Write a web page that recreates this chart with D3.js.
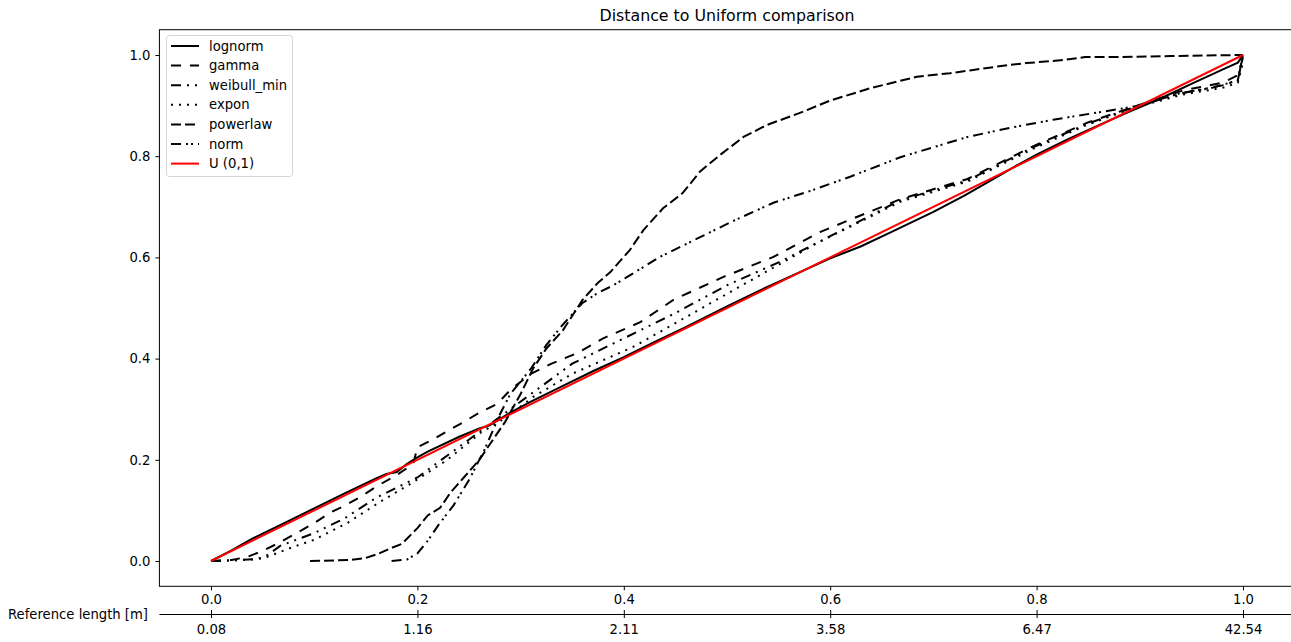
<!DOCTYPE html>
<html>
<head>
<meta charset="utf-8">
<script src="https://cdn.jsdelivr.net/npm/d3@7"></script>
<style>
  body { margin: 0; background: #fff; }
  svg { display: block; font-family: "DejaVu Sans", sans-serif; }
</style>
</head>
<body>
<div id="chart"></div>
<script>
// PP curves: [uniform quantile, fitted CDF]
const lognorm = [[0,0],[0.02,0.021],[0.04,0.044],[0.07,0.074],[0.1,0.104],[0.13,0.134],[0.16,0.163],[0.17,0.172],[0.18,0.176],[0.19,0.192],[0.2,0.205],[0.21,0.216],[0.24,0.245],[0.26,0.262],[0.27,0.268],[0.29,0.293],[0.31,0.315],[0.34,0.345],[0.37,0.375],[0.4,0.403],[0.43,0.433],[0.46,0.462],[0.5,0.503],[0.53,0.533],[0.56,0.561],[0.6,0.598],[0.63,0.622],[0.66,0.651],[0.7,0.69],[0.73,0.722],[0.76,0.757],[0.78,0.781],[0.8,0.803],[0.83,0.833],[0.86,0.861],[0.89,0.888],[0.92,0.914],[0.95,0.943],[0.98,0.971],[0.995,0.985],[1,1]];
const gamma = [[0,0],[0.02,0.002],[0.035,0.008],[0.05,0.02],[0.065,0.035],[0.08,0.052],[0.1,0.075],[0.115,0.095],[0.13,0.11],[0.145,0.127],[0.16,0.147],[0.18,0.17],[0.196,0.192],[0.2,0.225],[0.215,0.24],[0.23,0.258],[0.245,0.275],[0.26,0.293],[0.277,0.31],[0.29,0.338],[0.31,0.37],[0.33,0.39],[0.355,0.411],[0.38,0.44],[0.416,0.472],[0.448,0.516],[0.496,0.561],[0.545,0.601],[0.59,0.65],[0.668,0.715],[0.733,0.755],[0.797,0.82],[0.849,0.866],[0.893,0.897],[0.942,0.93],[0.98,0.945],[0.995,0.96],[1,0.995]];
const weibullMin = [[0,0],[0.02,0.001],[0.045,0.004],[0.055,0.012],[0.067,0.03],[0.08,0.04],[0.1,0.055],[0.13,0.085],[0.16,0.125],[0.2,0.165],[0.23,0.21],[0.26,0.255],[0.29,0.3],[0.32,0.345],[0.35,0.39],[0.4,0.44],[0.45,0.49],[0.5,0.545],[0.55,0.59],[0.6,0.642],[0.668,0.713],[0.733,0.752],[0.797,0.818],[0.849,0.864],[0.893,0.896],[0.942,0.925],[0.98,0.94],[0.995,0.95],[1,1]];
const expon = [[0,0],[0.02,0.001],[0.04,0.003],[0.052,0.006],[0.067,0.018],[0.08,0.028],[0.1,0.042],[0.132,0.075],[0.164,0.117],[0.196,0.156],[0.229,0.2],[0.244,0.225],[0.261,0.253],[0.287,0.285],[0.312,0.324],[0.35,0.37],[0.409,0.423],[0.45,0.47],[0.506,0.535],[0.587,0.628],[0.668,0.71],[0.733,0.75],[0.797,0.815],[0.849,0.862],[0.893,0.895],[0.942,0.922],[0.98,0.935],[0.995,0.945],[1,0.985]];
const powerlaw = [[0.096,0],[0.135,0.002],[0.15,0.006],[0.162,0.014],[0.175,0.026],[0.185,0.034],[0.2,0.065],[0.21,0.09],[0.222,0.105],[0.232,0.135],[0.245,0.165],[0.26,0.2],[0.275,0.245],[0.285,0.275],[0.3,0.33],[0.312,0.38],[0.325,0.42],[0.341,0.456],[0.36,0.516],[0.375,0.55],[0.387,0.571],[0.406,0.615],[0.419,0.654],[0.438,0.697],[0.457,0.727],[0.474,0.77],[0.493,0.802],[0.516,0.838],[0.539,0.862],[0.57,0.885],[0.6,0.91],[0.64,0.935],[0.684,0.957],[0.716,0.964],[0.737,0.97],[0.772,0.98],[0.79,0.984],[0.826,0.99],[0.847,0.996],[0.88,0.996],[0.93,0.998],[1,1]];
const norm = [[0.175,0],[0.19,0.003],[0.2,0.015],[0.21,0.04],[0.22,0.07],[0.235,0.11],[0.25,0.16],[0.265,0.22],[0.28,0.29],[0.29,0.33],[0.31,0.38],[0.325,0.427],[0.34,0.465],[0.36,0.51],[0.375,0.53],[0.39,0.545],[0.403,0.561],[0.435,0.601],[0.474,0.64],[0.506,0.672],[0.545,0.708],[0.583,0.733],[0.62,0.76],[0.668,0.798],[0.733,0.838],[0.774,0.856],[0.816,0.872],[0.861,0.887],[0.9,0.9],[0.94,0.925],[0.97,0.935],[0.995,0.95],[1,1]];
const uniform = [[0,0],[1,1]];

const seriesNames = ["lognorm", "gamma", "weibull_min", "expon", "powerlaw", "norm", "U (0,1)"];
const seriesValues = [lognorm, gamma, weibullMin, expon, powerlaw, norm, uniform];

// tick labels
const primaryTicks = [0, 0.2, 0.4, 0.6, 0.8, 1.0];
const yTicks = [0, 0.2, 0.4, 0.6, 0.8, 1.0];
const referenceLengthLabels = ["0.08", "1.16", "2.11", "3.58", "6.47", "42.54"];

// line styles, same order as seriesNames
const styles = [
    {stroke: "#000", dash: null},
    {stroke: "#000", dash: "10,9"},
    {stroke: "#000", dash: "10,6,2,6,2,6"},
    {stroke: "#000", dash: "2,6"},
    {stroke: "#000", dash: "10,4"},
    {stroke: "#000", dash: "10,5,2,3,2,5"},
    {stroke: "#ff0000", dash: null}
];

const W = 1291, H = 642;
const plot = {left: 159.4, right: 1294.6, top: 29.7, bottom: 586.3};

const svg = d3.select("#chart").append("svg")
    .attr("width", W)
    .attr("height", H);

const x = d3.scaleLinear().domain([-0.05, 1.05]).range([plot.left, plot.right]);
const y = d3.scaleLinear().domain([-0.05, 1.05]).range([plot.bottom, plot.top]);

svg.append("defs").append("clipPath").attr("id", "clip")
    .append("rect")
    .attr("x", plot.left).attr("y", plot.top)
    .attr("width", plot.right - plot.left).attr("height", plot.bottom - plot.top);

const line = d3.line().x(d => x(d[0])).y(d => y(d[1]));

// curves
const curves = svg.append("g").attr("clip-path", "url(#clip)");
seriesValues.forEach((data, i) => {
    curves.append("path")
        .datum(data)
        .attr("fill", "none")
        .attr("stroke", styles[i].stroke)
        .attr("stroke-width", 2)
        .attr("stroke-dasharray", styles[i].dash)
        .attr("d", line);
});

// spines
svg.append("rect")
    .attr("x", plot.left).attr("y", plot.top)
    .attr("width", plot.right - plot.left).attr("height", plot.bottom - plot.top)
    .attr("fill", "none").attr("stroke", "#000").attr("stroke-width", 1);

// y axis
const yAxis = svg.append("g")
    .attr("transform", `translate(${plot.left},0)`)
    .call(d3.axisLeft(y).tickValues(yTicks).tickFormat(d3.format(".1f")).tickSize(4).tickPadding(5));

// x axis (uniform quantile)
const xAxis = svg.append("g")
    .attr("transform", `translate(0,${plot.bottom})`)
    .call(d3.axisBottom(x).tickValues(primaryTicks).tickFormat(d3.format(".1f")).tickSize(4).tickPadding(4));

// secondary axis with reference lengths
const refAxis = svg.append("g")
    .attr("transform", "translate(0,614)")
    .call(d3.axisBottom(x).tickValues(primaryTicks)
        .tickFormat((d, i) => referenceLengthLabels[i]).tickSize(4).tickPadding(7));
refAxis.selectAll(".tick line").attr("y1", -4);

[yAxis, xAxis, refAxis].forEach(g => {
    g.select(".domain").remove();
    g.selectAll(".tick line").attr("stroke", "#000");
    g.selectAll(".tick text")
        .attr("fill", "#000")
        .style("font-size", "13.2px")
        .style("font-family", "DejaVu Sans, sans-serif");
});

svg.append("line")
    .attr("x1", plot.left).attr("x2", plot.right)
    .attr("y1", 614.5).attr("y2", 614.5)
    .attr("stroke", "#000").attr("stroke-width", 1);

svg.append("text")
    .attr("x", 148)
    .attr("y", 614)
    .attr("dy", "0.35em")
    .attr("text-anchor", "end")
    .style("font-size", "13.2px")
    .text("Reference length [m]");

// title
svg.append("text")
    .attr("x", (plot.left + plot.right) / 2)
    .attr("y", 21)
    .attr("text-anchor", "middle")
    .style("font-size", "15.8px")
    .text("Distance to Uniform comparison");

// legend
const legend = svg.append("g").attr("transform", "translate(166,35)");
legend.append("rect")
    .attr("x", 0.5).attr("y", 0.5)
    .attr("width", 126).attr("height", 141)
    .attr("rx", 3)
    .attr("fill", "#fff").attr("fill-opacity", 0.8)
    .attr("stroke", "#d6d6d6").attr("stroke-width", 1);

seriesNames.forEach((name, i) => {
    const cy = 11 + i * 19.6;
    legend.append("line")
        .attr("x1", 5).attr("x2", 33)
        .attr("y1", cy).attr("y2", cy)
        .attr("stroke", styles[i].stroke)
        .attr("stroke-width", 2)
        .attr("stroke-dasharray", styles[i].dash);
    legend.append("text")
        .attr("x", 43)
        .attr("y", cy)
        .attr("dy", "0.35em")
        .style("font-size", "13.2px")
        .text(name);
});
</script>
</body>
</html>
